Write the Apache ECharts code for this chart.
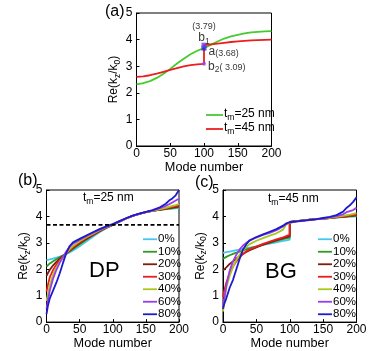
<!DOCTYPE html>
<html>
<head>
<meta charset="utf-8">
<script src="https://cdn.jsdelivr.net/npm/echarts@6/dist/echarts.min.js"></script>
<style>html,body{margin:0;padding:0;background:#fff;}#c{width:373px;height:351px;}</style>
</head>
<body>
<div id="c"></div>
<script>
// ---------- DATA ----------
// Panel (a)
const modesA = [0,10,20,30,40,50,60,70,80,90,100,100,110,120,130,140,150,160,170,180,190,200];
const tm25 = [2.32,2.36,2.44,2.56,2.72,2.90,3.10,3.28,3.45,3.58,3.68,3.68,3.80,3.93,4.04,4.12,4.18,4.23,4.27,4.29,4.31,4.32];
const tm45 = [2.60,2.62,2.66,2.72,2.79,2.86,2.93,2.99,3.04,3.07,3.09,3.79,3.82,3.85,3.88,3.91,3.93,3.95,3.97,3.98,3.99,4.00];
const pointNames = ['a','b1','b2'];
const pointModes = [100,100,100];
const pointValues = [3.68,3.79,3.09];
const seriesNamesA = ['tm=25 nm','tm=45 nm'];

// Panel (b) DP, tm=25 nm
const pctNames = ['0%','10%','20%','30%','40%','60%','80%'];
const modesB = [0,2,5,10,15,20,25,30,35,40,50,60,70,80,90,100,110,120,130,140,150,160,170,180,185,190,195,200];
const dp0  = [2.35,2.35,2.37,2.40,2.44,2.48,2.53,2.58,2.64,2.71,2.87,3.05,3.23,3.40,3.55,3.68,3.80,3.92,4.02,4.10,4.16,4.21,4.25,4.28,4.29,4.30,4.31,4.32];
const dp10 = [2.10,2.15,2.22,2.30,2.38,2.45,2.52,2.60,2.68,2.77,2.95,3.12,3.28,3.43,3.56,3.68,3.80,3.92,4.02,4.10,4.16,4.21,4.25,4.28,4.30,4.31,4.33,4.35];
const dp20 = [1.75,1.85,1.98,2.15,2.28,2.40,2.50,2.60,2.70,2.80,2.98,3.15,3.30,3.44,3.57,3.69,3.80,3.92,4.02,4.10,4.16,4.21,4.25,4.29,4.31,4.33,4.35,4.38];
const dp30 = [1.15,1.40,1.70,1.98,2.18,2.34,2.47,2.60,2.72,2.83,3.02,3.18,3.32,3.46,3.58,3.69,3.80,3.92,4.02,4.10,4.16,4.21,4.26,4.30,4.33,4.36,4.39,4.42];
const dp40 = [0.80,1.05,1.40,1.80,2.07,2.28,2.45,2.62,2.76,2.88,3.06,3.21,3.35,3.48,3.59,3.70,3.81,3.92,4.02,4.10,4.16,4.21,4.27,4.32,4.36,4.40,4.43,4.47];
const dp60 = [0.50,0.80,1.20,1.65,1.98,2.25,2.47,2.68,2.85,2.97,3.12,3.25,3.38,3.50,3.60,3.70,3.81,3.92,4.02,4.10,4.16,4.22,4.30,4.40,4.46,4.53,4.60,4.67];
const dp80 = [0.30,0.60,0.90,1.20,1.50,1.85,2.25,2.62,2.88,3.02,3.15,3.28,3.40,3.52,3.62,3.71,3.82,3.93,4.03,4.11,4.17,4.24,4.33,4.48,4.60,4.68,4.80,5.00];
const dpRef = 3.68;

// Panel (c) BG, tm=45 nm
const modesC = [0,2,5,10,15,20,25,30,35,40,50,60,70,80,90,95,100,100,110,120,130,140,150,160,170,180,185,190,195,200];
const bg0  = [2.62,2.63,2.645,2.67,2.695,2.72,2.745,2.77,2.795,2.82,2.87,2.92,2.97,3.02,3.07,3.095,3.12,3.79,3.82,3.85,3.88,3.90,3.92,3.94,3.96,3.97,3.98,3.99,3.995,4.00];
const bg10 = [2.40,2.43,2.47,2.53,2.58,2.63,2.67,2.71,2.75,2.79,2.86,2.93,3.00,3.07,3.14,3.17,3.20,3.79,3.82,3.85,3.88,3.90,3.92,3.94,3.96,3.98,3.99,4.00,4.01,4.02];
const bg20 = [1.95,2.00,2.07,2.20,2.30,2.40,2.50,2.58,2.65,2.72,2.83,2.93,3.02,3.10,3.18,3.22,3.25,3.79,3.82,3.85,3.88,3.90,3.92,3.94,3.96,3.98,4.00,4.02,4.03,4.05];
const bg30 = [0.95,1.20,1.50,1.85,2.10,2.30,2.45,2.58,2.68,2.76,2.86,2.96,3.05,3.13,3.21,3.26,3.30,3.79,3.82,3.85,3.88,3.90,3.92,3.94,3.97,3.99,4.01,4.03,4.05,4.07];
const bg40 = [0.40,0.80,1.30,1.75,2.10,2.35,2.55,2.72,2.85,2.95,3.08,3.18,3.27,3.36,3.50,3.70,3.75,3.79,3.82,3.85,3.88,3.90,3.92,3.95,3.98,4.02,4.05,4.07,4.10,4.12];
const bg60 = [0.55,0.90,1.40,1.95,2.30,2.55,2.75,2.90,3.00,3.08,3.20,3.30,3.38,3.48,3.62,3.72,3.77,3.79,3.80,3.83,3.86,3.89,3.92,3.96,4.01,4.08,4.16,4.20,4.24,4.33];
const bg80 = [0.50,0.70,0.90,1.30,1.60,2.00,2.40,2.75,2.95,3.10,3.22,3.32,3.42,3.52,3.65,3.74,3.78,3.79,3.81,3.84,3.87,3.90,3.94,3.98,4.05,4.18,4.32,4.42,4.55,4.72];

// Axis ticks
const xTicks = [0,50,100,150,200];
const yTicks = [0,1,2,3,4,5];

// ---------- STYLE ----------
const FONT = 'Liberation Sans, Arial, sans-serif';
const pctColors = ['#45c6f2','#2f9a22','#7d1c10','#ec1d1d','#a9c81c','#9a3ced','#1c1ccd'];
const colA = ['#44cc2e','#ec1d1d'];

const subRich = {
  n: {fontSize: 12, fontFamily: FONT, color: '#000', lineHeight: 14, verticalAlign: 'top'},
  s: {fontSize: 8.5, fontFamily: FONT, color: '#000', lineHeight: 14, padding: [5,0,0,0], verticalAlign: 'top'}
};
const yName = '{n|Re(k}{s|z}{n|/k}{s|0}{n|)}';

function xAxis(gi) {
  return {
    gridIndex: gi, type: 'value', min: xTicks[0], max: xTicks[xTicks.length-1], interval: xTicks[1]-xTicks[0],
    name: 'Mode number', nameLocation: 'middle', nameGap: 13,
    nameTextStyle: {fontFamily: FONT, fontSize: 12.7, color: '#000'},
    axisLine: {show: true, lineStyle: {color: '#000', width: 1}},
    axisTick: {show: true, inside: true, length: 3, lineStyle: {color: '#000'}},
    axisLabel: {fontFamily: FONT, fontSize: 12, color: '#000', margin: 2},
    splitLine: {show: false}
  };
}
function yAxis(gi) {
  return {
    gridIndex: gi, type: 'value', min: yTicks[0], max: yTicks[yTicks.length-1], interval: yTicks[1]-yTicks[0],
    name: yName, nameLocation: 'middle', nameGap: 14, nameRotate: 90,
    nameTextStyle: {rich: subRich},
    axisLine: {show: true, lineStyle: {color: '#000', width: 1}},
    axisTick: {show: true, inside: true, length: 3, lineStyle: {color: '#000'}},
    axisLabel: {fontFamily: FONT, fontSize: 12, color: '#000', margin: 4},
    splitLine: {show: false}
  };
}
function lineSeries(name, gi, modes, vals, color, z) {
  return {
    name: name, type: 'line', xAxisIndex: gi, yAxisIndex: gi,
    data: modes.map((m, i) => [m, vals[i]]),
    showSymbol: false, symbol: 'none', smooth: false, z: z || 2,
    lineStyle: {color: color, width: 1.8}, itemStyle: {color: color},
    animation: false
  };
}

const series = [];
series.push(lineSeries(seriesNamesA[0], 0, modesA, tm25, colA[0], 2));
series.push(lineSeries(seriesNamesA[1], 0, modesA, tm45, colA[1], 3));

// points a, b1, b2
const ptStyle = [
  {symbol: 'rect', size: 5, color: '#2a2ae0'},
  {symbol: 'rect', size: 5, color: '#6a40f0'},
  {symbol: 'circle', size: 4, color: '#a040f0'}
];
const ptRich = {
  b: {fontSize: 12, fontFamily: FONT, color: '#000', lineHeight: 13, verticalAlign: 'top'},
  s: {fontSize: 8.5, fontFamily: FONT, color: '#000', lineHeight: 13, padding: [5,0,0,0], verticalAlign: 'top'},
  v: {fontSize: 9, fontFamily: FONT, color: '#000', lineHeight: 13, padding: [3,0,0,0], verticalAlign: 'top'}
};
const ptLabels = [
  {formatter: '{b|a}{v|(' + pointValues[0].toFixed(2) + ')}', position: 'right', distance: 2, offset: [0, 4]},
  {formatter: '{v|(' + pointValues[1].toFixed(2) + ')}\n{b|b}{s|1}', position: 'top', distance: 0, offset: [0, 2]},
  {formatter: '{b|b}{s|2}{v|( ' + pointValues[2].toFixed(2) + ')}', position: 'right', distance: 2, offset: [0, 3]}
];
series.push({
  type: 'scatter', xAxisIndex: 0, yAxisIndex: 0, z: 5, animation: false,
  data: pointNames.map((n, i) => ({
    value: [pointModes[i], pointValues[i]],
    symbol: ptStyle[i].symbol, symbolSize: ptStyle[i].size,
    itemStyle: {color: ptStyle[i].color},
    label: Object.assign({show: true, rich: ptRich}, ptLabels[i])
  }))
});

const dpVals = [dp0, dp10, dp20, dp30, dp40, dp60, dp80];
const bgVals = [bg0, bg10, bg20, bg30, bg40, bg60, bg80];
pctNames.forEach((n, k) => series.push(lineSeries(n, 1, modesB, dpVals[k], pctColors[k], 2 + k)));
pctNames.forEach((n, k) => series.push(lineSeries(n, 2, modesC, bgVals[k], pctColors[k], 2 + k)));
// dashed reference line in (b)
series.push({
  name: 'ref', type: 'line', xAxisIndex: 1, yAxisIndex: 1, z: 10, animation: false,
  data: [[xTicks[0], dpRef], [xTicks[xTicks.length-1], dpRef]],
  symbol: 'none', lineStyle: {color: '#000', width: 1.6, type: [4, 2.5]}
});

const legRich = {
  n: {fontSize: 12, fontFamily: FONT, color: '#000', lineHeight: 14, verticalAlign: 'top'},
  s: {fontSize: 8.5, fontFamily: FONT, color: '#000', lineHeight: 14, padding: [5,0,0,0], verticalAlign: 'top'}
};
function pctLegend(left) {
  return {
    data: pctNames, orient: 'vertical', left: left, top: 233, itemWidth: 14, itemHeight: 10, itemGap: 0,
    padding: 0, icon: 'path://M0,4.1L14,4.1L14,5.9L0,5.9Z', selectedMode: false,
    textStyle: {fontFamily: FONT, fontSize: 11.5, color: '#000', lineHeight: 12.5, padding: [0,0,0,-4]}
  };
}

const option = {
  backgroundColor: '#fff',
  animation: false,
  grid: [
    {left: 136.5, top: 13, width: 135, height: 133, show: true, borderColor: '#000', borderWidth: 1, containLabel: false},
    {left: 46.5, top: 190, width: 132.5, height: 132.5, show: true, borderColor: '#000', borderWidth: 1, containLabel: false},
    {left: 223, top: 190, width: 133.5, height: 132.5, show: true, borderColor: '#000', borderWidth: 1, containLabel: false}
  ],
  xAxis: [xAxis(0), xAxis(1), xAxis(2)],
  yAxis: [yAxis(0), yAxis(1), yAxis(2)],
  legend: [
    {
      data: seriesNamesA, orient: 'vertical', left: 206, top: 108, itemWidth: 17, itemHeight: 10, itemGap: 0,
      padding: 0, icon: 'path://M0,4.1L17,4.1L17,5.9L0,5.9Z', selectedMode: false,
      formatter: function (name) { return '{n|t}{s|m}{n|' + name.slice(2) + '}'; },
      textStyle: {rich: legRich, padding: [0,0,0,-4]}
    },
    pctLegend(143),
    pctLegend(318)
  ],
  graphic: [
    {type: 'text', left: 105, top: 4, style: {text: '(a)', font: '16px ' + FONT, fill: '#000'}},
    {type: 'text', left: 18, top: 173, style: {text: '(b)', font: '16px ' + FONT, fill: '#000'}},
    {type: 'text', left: 195, top: 175, style: {text: '(c)', font: '16px ' + FONT, fill: '#000'}},
    {type: 'text', left: 83, top: 192, style: {text: '{n|t}{s|m}{n|=25 nm}', rich: legRich}},
    {type: 'text', left: 268, top: 193, style: {text: '{n|t}{s|m}{n|=45 nm}', rich: legRich}},
    {type: 'text', left: 89, top: 260, style: {text: 'DP', font: '22px ' + FONT, fill: '#000'}},
    {type: 'text', left: 265, top: 261, style: {text: 'BG', font: '22px ' + FONT, fill: '#000'}}
  ],
  series: series
};

const chart = echarts.init(document.getElementById('c'), null, {renderer: 'canvas'});
chart.setOption(option);
</script>
</body>
</html>
